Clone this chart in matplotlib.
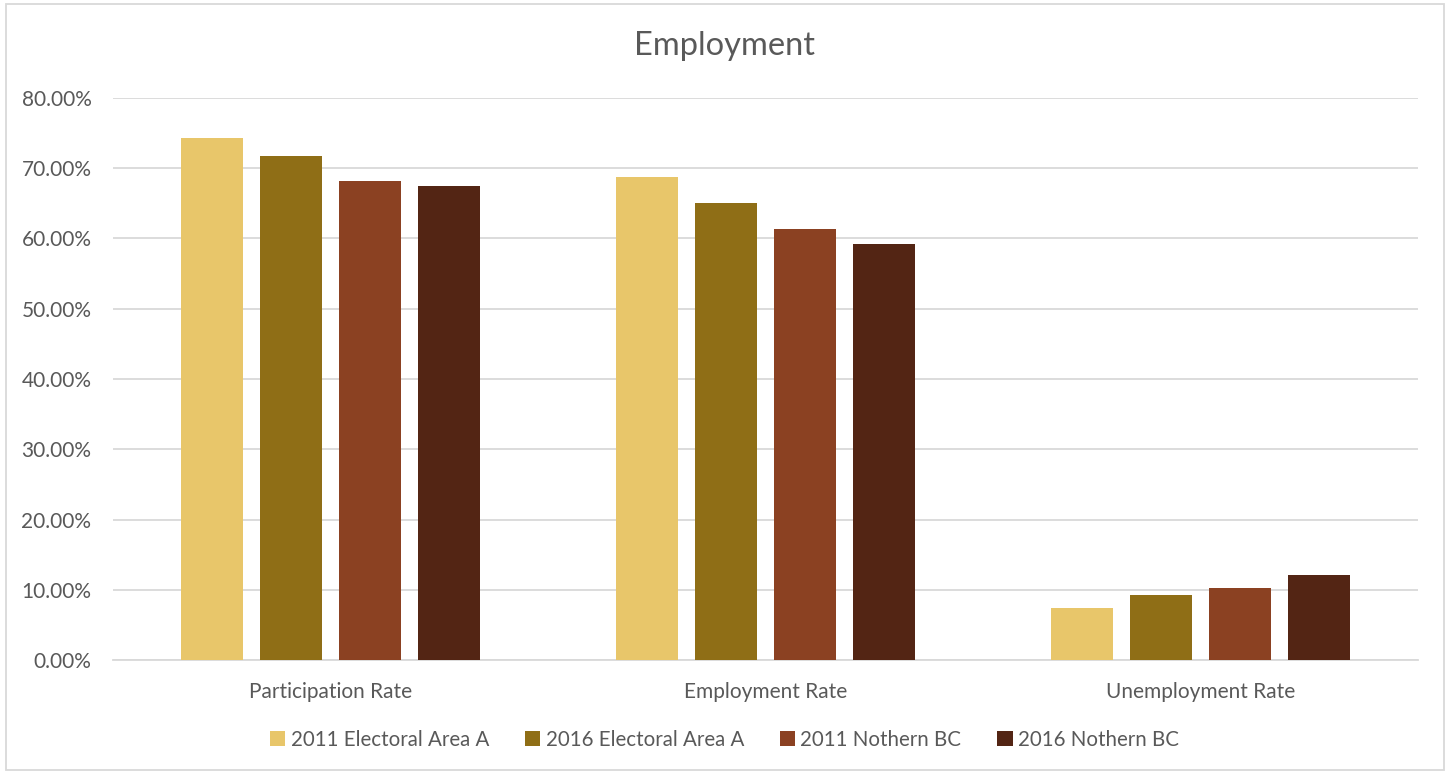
import matplotlib
matplotlib.use("Agg")
import matplotlib.pyplot as plt
import numpy as np
from matplotlib.ticker import FuncFormatter, MultipleLocator
from matplotlib.patches import Rectangle

categories = ["Participation Rate", "Employment Rate", "Unemployment Rate"]
series_names = ["2011 Electoral Area A", "2016 Electoral Area A", "2011 Nothern BC", "2016 Nothern BC"]
s2011_area_a = [0.7435, 0.6875, 0.0744]
s2016_area_a = [0.718, 0.650, 0.093]
s2011_nbc = [0.682, 0.614, 0.102]
s2016_nbc = [0.675, 0.592, 0.121]
values = [s2011_area_a, s2016_area_a, s2011_nbc, s2016_nbc]
colors = ["#E8C66A", "#8F6E16", "#8B4122", "#532514"]

plt.rcParams['font.family'] = ['Lato', 'DejaVu Sans']

fig = plt.figure(figsize=(14.49, 7.74), dpi=100)
ax = fig.add_axes([113/1449, 114/774, 1305/1449, 562/774])

x = np.arange(len(categories))
width = 62/435
step = 79/435
for i, (vals, c, name) in enumerate(zip(values, colors, series_names)):
    ax.bar(x + (i - 1.5) * step, vals, width, color=c, label=name, zorder=3)

ax.set_xlim(-0.5, 2.5)
ax.set_ylim(0, 0.8)
ax.yaxis.set_major_locator(MultipleLocator(0.1))
ax.yaxis.set_major_formatter(FuncFormatter(lambda v, p: f"{v*100:.2f}%"))
ax.set_xticks(x)
ax.set_xticklabels(categories)
ax.grid(axis='y', color='#D9D9D9', linewidth=1.3, zorder=0)
for s in ['top', 'right', 'left']:
    ax.spines[s].set_visible(False)
ax.spines['bottom'].set_color('#D9D9D9')
ax.spines['bottom'].set_linewidth(1.3)
ax.tick_params(axis='both', length=0, colors='#595959', labelsize=15)
ax.tick_params(axis='y', pad=15.5)
ax.tick_params(axis='x', pad=15.5)

fig.text(0.5, 1 - 46/774, "Employment", ha='center', va='center', fontsize=23.5, color='#595959')

leg = fig.legend(loc='center', bbox_to_anchor=(0.5, 1 - 740/774), ncol=4, frameon=False,
                 fontsize=14.8, handlelength=0.75, handleheight=0.75, handletextpad=0.25,
                 columnspacing=1.75, labelcolor='#595959')

fig.patches.append(Rectangle((6/1449, 4/774), 1438/1449, 766/774, transform=fig.transFigure,
                             fill=False, edgecolor='#D9D9D9', linewidth=1.3))

fig.savefig("out.png", dpi=100)
